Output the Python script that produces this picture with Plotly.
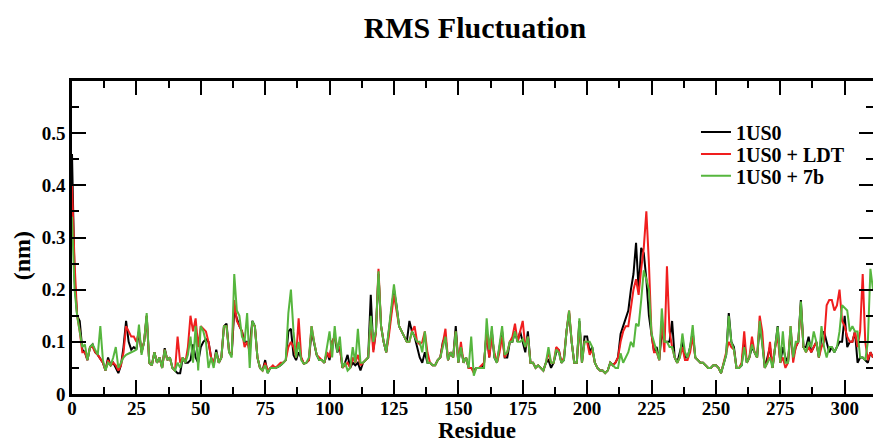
import plotly.graph_objects as go

# RMSF per residue (nm)
residue = list(range(312))

rmsf_1us0 = [
    0.46, 0.22, 0.15, 0.14, 0.085, 0.08, 0.065, 0.09, 0.095, 0.08,
    0.075, 0.068, 0.06, 0.045, 0.07, 0.055, 0.06, 0.05, 0.04, 0.055,
    0.09, 0.14, 0.10, 0.085, 0.09, 0.085, 0.12, 0.08, 0.10, 0.15,
    0.06, 0.055, 0.08, 0.06, 0.07, 0.05, 0.088, 0.065, 0.07, 0.05,
    0.045, 0.04, 0.04, 0.07, 0.06, 0.06, 0.065, 0.095, 0.07, 0.06,
    0.09, 0.10, 0.105, 0.10, 0.07, 0.055, 0.085, 0.06, 0.07, 0.13,
    0.135, 0.08, 0.075, 0.16, 0.145, 0.13, 0.12, 0.10, 0.10, 0.09,
    0.14, 0.13, 0.07, 0.05, 0.045, 0.065, 0.04, 0.05, 0.05, 0.05,
    0.052, 0.055, 0.06, 0.065, 0.12, 0.125, 0.075, 0.065, 0.08, 0.07,
    0.058, 0.06, 0.065, 0.12, 0.10, 0.075, 0.065, 0.065, 0.06, 0.08,
    0.065, 0.10, 0.11, 0.08, 0.09, 0.05, 0.06, 0.075, 0.05, 0.06,
    0.055, 0.06, 0.045, 0.06, 0.065, 0.07, 0.19, 0.085, 0.12, 0.23,
    0.13, 0.10, 0.08, 0.12, 0.16, 0.20, 0.17, 0.13, 0.12, 0.11,
    0.10, 0.14, 0.12, 0.11, 0.09, 0.07, 0.06, 0.08, 0.06, 0.06,
    0.055, 0.055, 0.065, 0.07, 0.10, 0.11, 0.065, 0.08, 0.07, 0.13,
    0.06, 0.09, 0.06, 0.07, 0.05, 0.05, 0.045, 0.05, 0.05, 0.05,
    0.06, 0.12, 0.07, 0.12, 0.07, 0.06, 0.09, 0.12, 0.07, 0.07,
    0.10, 0.10, 0.12, 0.10, 0.12, 0.10, 0.08, 0.12, 0.06, 0.06,
    0.05, 0.055, 0.05, 0.045, 0.06, 0.065, 0.05, 0.06, 0.08, 0.085,
    0.06, 0.065, 0.12, 0.155, 0.10, 0.06, 0.06, 0.14, 0.06, 0.11,
    0.11, 0.08, 0.09, 0.06, 0.05, 0.045, 0.045, 0.04, 0.045, 0.06,
    0.055, 0.06, 0.07, 0.115, 0.13, 0.145, 0.16, 0.20, 0.23, 0.29,
    0.20, 0.28, 0.27, 0.22, 0.15, 0.115, 0.08, 0.09, 0.065, 0.12,
    0.10, 0.10, 0.10, 0.14, 0.07, 0.06, 0.08, 0.10, 0.07, 0.07,
    0.09, 0.12, 0.07, 0.065, 0.06, 0.06, 0.055, 0.05, 0.05, 0.055,
    0.055, 0.05, 0.04, 0.06, 0.075, 0.155, 0.10, 0.09, 0.05, 0.05,
    0.055, 0.10, 0.06, 0.07, 0.09, 0.08, 0.07, 0.13, 0.10, 0.05,
    0.07, 0.09, 0.05, 0.09, 0.13, 0.06, 0.09, 0.07, 0.06, 0.12,
    0.07, 0.09, 0.10, 0.18, 0.09, 0.09, 0.11, 0.08, 0.09, 0.10,
    0.07, 0.11, 0.12, 0.10, 0.08, 0.09, 0.08, 0.09, 0.10, 0.10,
    0.15, 0.09, 0.10, 0.10, 0.12, 0.06, 0.07, 0.07, 0.065, 0.06,
    0.08, 0.07,
]

rmsf_ldt = [
    0.40, 0.25, 0.15, 0.12, 0.08, 0.08, 0.065, 0.09, 0.09, 0.08,
    0.075, 0.068, 0.06, 0.045, 0.065, 0.055, 0.06, 0.055, 0.045, 0.055,
    0.08, 0.13, 0.12, 0.11, 0.11, 0.10, 0.12, 0.08, 0.10, 0.15,
    0.06, 0.055, 0.08, 0.06, 0.07, 0.05, 0.085, 0.065, 0.07, 0.05,
    0.045, 0.11, 0.06, 0.07, 0.06, 0.09, 0.15, 0.12, 0.145, 0.09,
    0.13, 0.125, 0.12, 0.10, 0.07, 0.06, 0.08, 0.06, 0.07, 0.13,
    0.13, 0.08, 0.075, 0.18, 0.14, 0.13, 0.12, 0.09, 0.10, 0.08,
    0.135, 0.13, 0.07, 0.05, 0.045, 0.06, 0.045, 0.05, 0.055, 0.05,
    0.055, 0.06, 0.06, 0.065, 0.09, 0.10, 0.09, 0.07, 0.145, 0.07,
    0.058, 0.06, 0.065, 0.13, 0.10, 0.075, 0.07, 0.065, 0.06, 0.08,
    0.07, 0.10, 0.11, 0.09, 0.09, 0.05, 0.055, 0.06, 0.05, 0.07,
    0.06, 0.075, 0.055, 0.06, 0.065, 0.07, 0.14, 0.08, 0.12, 0.24,
    0.13, 0.10, 0.08, 0.11, 0.15, 0.19, 0.16, 0.13, 0.12, 0.11,
    0.10, 0.10, 0.12, 0.13, 0.10, 0.095, 0.10, 0.12, 0.08, 0.06,
    0.055, 0.055, 0.065, 0.07, 0.10, 0.125, 0.065, 0.08, 0.07, 0.12,
    0.06, 0.10, 0.06, 0.07, 0.05, 0.05, 0.04, 0.05, 0.05, 0.055,
    0.06, 0.12, 0.07, 0.11, 0.08, 0.06, 0.08, 0.11, 0.07, 0.08,
    0.10, 0.11, 0.135, 0.10, 0.12, 0.14, 0.09, 0.11, 0.06, 0.06,
    0.05, 0.055, 0.05, 0.045, 0.06, 0.08, 0.06, 0.06, 0.09, 0.085,
    0.06, 0.07, 0.12, 0.16, 0.10, 0.06, 0.06, 0.135, 0.06, 0.10,
    0.10, 0.075, 0.085, 0.06, 0.05, 0.045, 0.045, 0.04, 0.045, 0.06,
    0.055, 0.06, 0.07, 0.10, 0.12, 0.13, 0.13, 0.17, 0.20, 0.22,
    0.19, 0.24, 0.28, 0.35, 0.25, 0.115, 0.08, 0.08, 0.065, 0.14,
    0.08, 0.245, 0.12, 0.09, 0.07, 0.06, 0.07, 0.09, 0.065, 0.065,
    0.08, 0.11, 0.07, 0.065, 0.06, 0.06, 0.055, 0.05, 0.05, 0.055,
    0.055, 0.05, 0.04, 0.06, 0.075, 0.10, 0.09, 0.085, 0.05, 0.05,
    0.06, 0.12, 0.06, 0.07, 0.11, 0.08, 0.07, 0.15, 0.12, 0.05,
    0.06, 0.10, 0.05, 0.09, 0.11, 0.06, 0.07, 0.05, 0.06, 0.13,
    0.06, 0.09, 0.10, 0.17, 0.09, 0.08, 0.09, 0.08, 0.09, 0.10,
    0.07, 0.09, 0.10, 0.17, 0.18, 0.18, 0.16, 0.17, 0.20, 0.14,
    0.13, 0.11, 0.10, 0.10, 0.12, 0.09, 0.12, 0.23, 0.10, 0.065,
    0.08, 0.07,
]

rmsf_7b = [
    0.34, 0.20, 0.15, 0.12, 0.09, 0.095, 0.065, 0.09, 0.095, 0.085,
    0.075, 0.13, 0.065, 0.045, 0.06, 0.055, 0.07, 0.09, 0.05, 0.06,
    0.07, 0.075, 0.078, 0.08, 0.082, 0.085, 0.133, 0.075, 0.10, 0.155,
    0.06, 0.055, 0.08, 0.06, 0.07, 0.05, 0.085, 0.065, 0.07, 0.05,
    0.045, 0.06, 0.05, 0.07, 0.06, 0.075, 0.11, 0.06, 0.13, 0.045,
    0.13, 0.12, 0.10, 0.05, 0.07, 0.05, 0.08, 0.06, 0.07, 0.13,
    0.13, 0.08, 0.07, 0.23, 0.16, 0.15, 0.11, 0.10, 0.155, 0.05,
    0.14, 0.13, 0.07, 0.05, 0.045, 0.055, 0.04, 0.05, 0.05, 0.05,
    0.052, 0.055, 0.06, 0.065, 0.155, 0.20, 0.12, 0.07, 0.10, 0.065,
    0.058, 0.06, 0.07, 0.13, 0.10, 0.075, 0.065, 0.065, 0.06, 0.09,
    0.12, 0.07, 0.13, 0.08, 0.11, 0.05, 0.06, 0.045, 0.05, 0.09,
    0.06, 0.125, 0.06, 0.06, 0.065, 0.07, 0.15, 0.10, 0.12, 0.235,
    0.13, 0.10, 0.08, 0.12, 0.16, 0.21, 0.17, 0.13, 0.12, 0.11,
    0.10, 0.10, 0.12, 0.11, 0.10, 0.10, 0.08, 0.12, 0.06, 0.06,
    0.055, 0.055, 0.065, 0.07, 0.09, 0.11, 0.065, 0.08, 0.07, 0.12,
    0.06, 0.09, 0.06, 0.07, 0.05, 0.11, 0.035, 0.05, 0.05, 0.05,
    0.05, 0.145, 0.085, 0.13, 0.07, 0.06, 0.10, 0.13, 0.075, 0.08,
    0.10, 0.10, 0.12, 0.10, 0.10, 0.105, 0.09, 0.11, 0.06, 0.06,
    0.05, 0.055, 0.05, 0.045, 0.06, 0.09, 0.06, 0.06, 0.085, 0.08,
    0.06, 0.065, 0.12, 0.16, 0.10, 0.06, 0.06, 0.145, 0.06, 0.10,
    0.10, 0.10, 0.09, 0.06, 0.05, 0.045, 0.045, 0.04, 0.045, 0.06,
    0.055, 0.05, 0.05, 0.078, 0.06, 0.07, 0.08, 0.10, 0.09, 0.135,
    0.13, 0.18, 0.237, 0.22, 0.20, 0.116, 0.10, 0.08, 0.065, 0.164,
    0.10, 0.10, 0.09, 0.09, 0.07, 0.06, 0.07, 0.116, 0.08, 0.07,
    0.09, 0.132, 0.07, 0.065, 0.06, 0.06, 0.055, 0.05, 0.05, 0.055,
    0.055, 0.05, 0.04, 0.06, 0.075, 0.15, 0.10, 0.085, 0.05, 0.05,
    0.055, 0.09, 0.06, 0.07, 0.095, 0.08, 0.07, 0.14, 0.10, 0.05,
    0.06, 0.07, 0.05, 0.09, 0.129, 0.06, 0.12, 0.06, 0.06, 0.13,
    0.07, 0.10, 0.10, 0.177, 0.09, 0.08, 0.10, 0.09, 0.12, 0.10,
    0.07, 0.13, 0.09, 0.07, 0.09, 0.09, 0.08, 0.09, 0.12, 0.17,
    0.165, 0.16, 0.12, 0.13, 0.12, 0.12, 0.07, 0.07, 0.065, 0.10,
    0.24, 0.20,
]

x_ticks = [0, 25, 50, 75, 100, 125, 150, 175, 200, 225, 250, 275, 300]
y_ticks = [0, 0.1, 0.2, 0.3, 0.4, 0.5]
y_ticktext = ["0", "0.1", "0.2", "0.3", "0.4", "0.5"]

series = [
    ("1US0", rmsf_1us0, "black", "legend"),
    ("1US0 + LDT", rmsf_ldt, "#f01e1e", "legend2"),
    ("1US0 + 7b", rmsf_7b, "#56b63e", "legend3"),
]

serif = "Liberation Serif, Times New Roman, serif"

fig = go.Figure()
for name, vals, col, leg in series:
    fig.add_trace(go.Scatter(x=residue, y=vals, mode="lines", name=name, legend=leg,
                             showlegend=True, line=dict(color=col, width=2)))

axis_common = dict(showgrid=False, zeroline=False, showline=True, linecolor="black", linewidth=2.5,
                   mirror="ticks", ticks="inside", ticklen=14, tickwidth=2, tickcolor="black",
                   automargin=False,
                   tickfont=dict(family=serif, size=19, color="black", weight="bold"))

fig.update_xaxes(range=[0, 311], tickvals=x_ticks, ticklabelstandoff=-5,
                 minor=dict(dtick=12.5, tick0=0, ticks="inside", ticklen=7, tickwidth=2, tickcolor="black"),
                 **axis_common)
fig.update_yaxes(range=[0, 0.6], tickvals=y_ticks, ticktext=y_ticktext,
                 minor=dict(dtick=0.05, tick0=0, ticks="inside", ticklen=7, tickwidth=2, tickcolor="black"),
                 **axis_common)

leg_style = dict(x=0.779, xanchor="left", yanchor="middle", bgcolor="rgba(0,0,0,0)",
                 font=dict(family=serif, size=20, color="black", weight="bold"))

fig.update_layout(
    width=873, height=442,
    plot_bgcolor="white", paper_bgcolor="white",
    margin=dict(l=72, r=0, t=81, b=48),
    showlegend=True,
    title=dict(text="<b>RMS Fluctuation</b>", x=0.544, xanchor="center", y=0.937, yanchor="middle",
               font=dict(family=serif, size=30, color="black")),
    legend=dict(y=0.837, **leg_style),
    legend2=dict(y=0.767, **leg_style),
    legend3=dict(y=0.697, **leg_style),
    annotations=[
        dict(text="<b>Residue</b>", xref="paper", yref="paper", x=0.506, y=-0.118,
             xanchor="center", yanchor="middle", showarrow=False,
             font=dict(family=serif, size=23, color="black")),
        dict(text="<b>(nm)</b>", xref="paper", yref="paper", x=-0.0624, y=0.44,
             xanchor="center", yanchor="middle", textangle=-90, showarrow=False,
             font=dict(family=serif, size=24, color="black")),
    ],
)

fig.write_html("out.html", config={"displayModeBar": False},
               post_script="document.body.style.margin='0px';")
